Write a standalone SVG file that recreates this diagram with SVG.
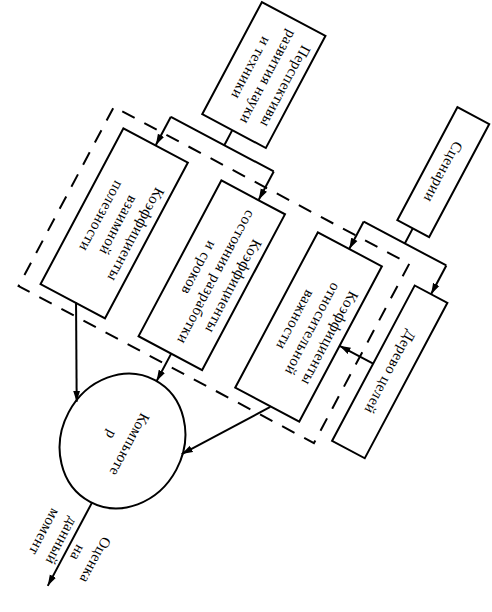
<svg xmlns="http://www.w3.org/2000/svg" width="492" height="612" viewBox="0 0 492 612">
<style>
.box{fill:#fff;stroke:#000;stroke-width:2}
.frame{fill:none;stroke:#000;stroke-width:2;stroke-dasharray:14 11}
.ln{fill:none;stroke:#000;stroke-width:2}
.arr{fill:none;stroke:#000;stroke-width:2;marker-end:url(#ah)}
text{font-family:"Liberation Serif","Times New Roman",serif;font-size:15px;letter-spacing:0.5px;fill:#000;text-anchor:middle}
</style>
<defs>
<marker id="ah" markerUnits="userSpaceOnUse" markerWidth="11" markerHeight="8" refX="11" refY="4" orient="auto">
<path d="M0,0.5 L11,4 L0,7.5 Z" fill="#000"/>
</marker>
</defs>
<rect width="492" height="612" fill="#fff"/>
<g transform="translate(122.5,441) rotate(118)">
<g id="frame">
<rect class="frame" x="-291" y="-170" width="203" height="334.5"/>
</g>
<g id="persp">
<rect class="box" x="-453" y="11" width="127" height="72"/>
<text x="-389.5" y="27.5">Перспективы</text>
<text x="-389.5" y="47">развития науки</text>
<text x="-389.5" y="66.5">и техники</text>
</g>
<g id="scen">
<rect class="box" x="-452" y="-175" width="128" height="36"/>
<text x="-388" y="-152">Сценарии</text>
</g>
<g id="box3">
<rect class="box" x="-276.5" y="73" width="176.5" height="73"/>
<text x="-188.5" y="90">Коэффициенты</text>
<text x="-188.5" y="109.5">взаимной</text>
<text x="-188.5" y="129">полезности</text>
</g>
<g id="box4">
<rect class="box" x="-276.5" y="-37" width="176.5" height="72"/>
<text x="-188.5" y="-20.5">Коэффициенты</text>
<text x="-188.5" y="-1">состояния разработки</text>
<text x="-188.5" y="18.5">и сроков</text>
</g>
<g id="box5">
<rect class="box" x="-276" y="-147" width="176" height="72.5"/>
<text x="-188" y="-130">Коэффициенты</text>
<text x="-188" y="-110.5">относительной</text>
<text x="-188" y="-91">важности</text>
</g>
<g id="tree">
<rect class="box" x="-274.5" y="-222" width="176" height="37"/>
<text x="-186.5" y="-199">Дерево целей</text>
</g>
<g id="computer">
<ellipse class="box" cx="0" cy="0" rx="69" ry="61"/>
<text x="0" y="-3">Компьюте</text>
<text x="0" y="17.5">р</text>
</g>
<g id="connectors">
<path class="ln" d="M-326,49 L-309,49 M-309,-7 L-309,109.5"/>
<path class="arr" d="M-309,109.5 L-277,109.5"/>
<path class="arr" d="M-309,-7 L-277,-7"/>
<path class="ln" d="M-324,-156.5 L-307,-156.5 M-307,-203.5 L-307,-110"/>
<path class="arr" d="M-307,-110 L-276,-110"/>
<path class="arr" d="M-307,-203.5 L-274.5,-203.5"/>
<path class="arr" d="M-186,-185 L-186,-147"/>
<path class="arr" d="M-100.4,106 L-13.2,58.9"/>
<path class="arr" d="M-100,-2 L-69,-2"/>
<path class="arr" d="M-99.5,-114.5 L-16.3,-58.4"/>
<path class="arr" d="M69,-2 L163,-2"/>
</g>
<g id="output-label">
<text x="118" y="-27">Оценка</text>
<text x="120" y="-8">на</text>
<text x="117" y="11.5">данный</text>
<text x="117" y="31">момент</text>
</g>
</g>
</svg>
